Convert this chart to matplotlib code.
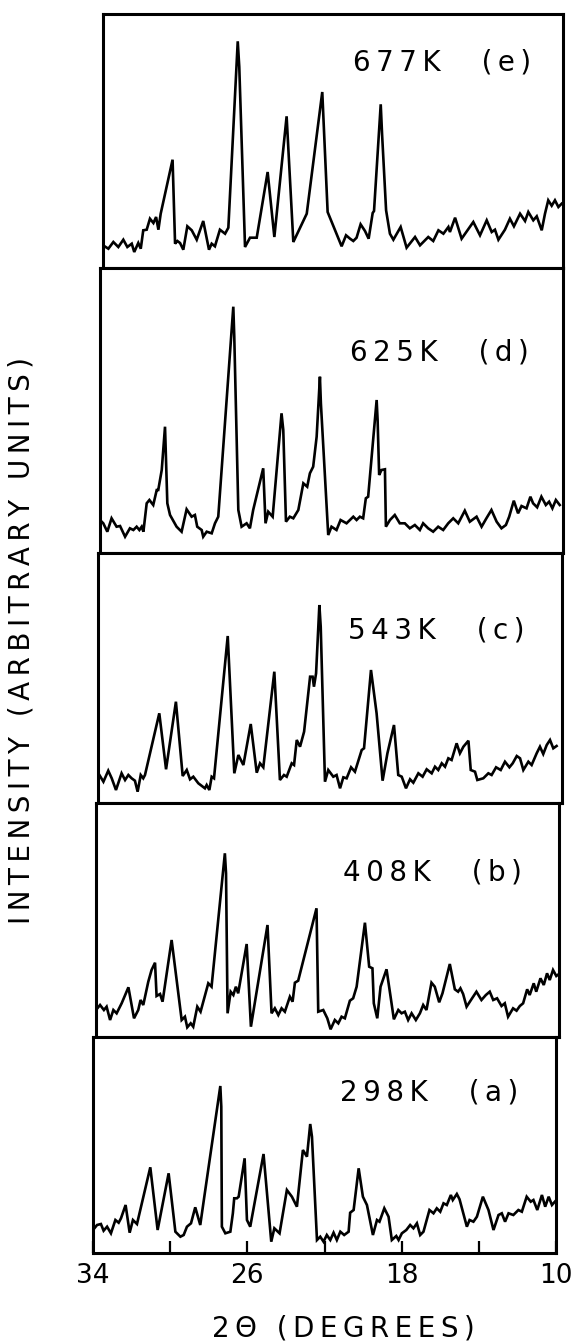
import matplotlib
matplotlib.use("Agg")
import matplotlib.pyplot as plt

# 2-theta (degrees) and intensity (arbitrary units)
x_e = [34.00, 33.72, 33.46, 33.20, 32.94, 32.73, 32.50, 32.37, 32.16, 32.03, 31.90, 31.72, 31.55, 31.37, 31.23, 31.11, 30.99, 30.37, 30.24, 30.12,
       29.98, 29.81, 29.60, 29.37, 29.11, 28.77, 28.47, 28.33, 28.16, 27.90, 27.63, 27.46, 26.97, 26.89, 26.59, 26.33, 25.98, 25.41, 25.06, 24.42,
       24.07, 23.37, 22.56, 22.28, 21.55, 21.32, 21.11, 20.94, 20.77, 20.56, 20.33, 20.14, 19.93, 19.86, 19.51, 19.44, 19.23, 19.03, 18.85, 18.47,
       18.16, 17.72, 17.46, 17.03, 16.77, 16.50, 16.24, 15.98, 15.90, 15.63, 15.29, 14.68, 14.33, 13.98, 13.72, 13.55, 13.37, 13.03, 12.77, 12.56,
       12.24, 11.98, 11.81, 11.55, 11.37, 11.11, 10.94, 10.77, 10.59, 10.42, 10.24, 10.07]
y_e = [22.7, 19.3, 26, 21, 28.3, 21, 24.3, 16, 25, 19.3, 37.7, 38.3, 49.3, 45, 51, 38.3, 54.3, 108.3, 24.3, 27,
       25, 18.3, 41.7, 37.7, 28.3, 47, 18.3, 24.3, 21.7, 38.3, 34.3, 40.3, 226.7, 201, 21, 30.3, 30.3, 96, 31, 151.7,
       26, 54.3, 176, 56, 21.7, 32.7, 29.3, 27, 30.3, 43.7, 37, 29.3, 55, 57, 163.7, 134, 57.7, 34.3, 28.3, 41,
       20.3, 31, 22.7, 31, 27, 37.7, 34.3, 41, 36, 50.3, 29.3, 46, 32.7, 47.7, 36, 38.3, 28.3, 38.3, 49.3, 41.7,
       54.3, 47, 56, 47.7, 51.7, 37.7, 54.3, 67.7, 62.3, 67.7, 61, 64.3]

x_d = [34.00, 33.83, 33.62, 33.40, 33.14, 32.96, 32.70, 32.45, 32.27, 32.10, 31.96, 31.84, 31.75, 31.58, 31.44, 31.24, 31.06, 30.98, 30.80, 30.63,
       30.51, 30.37, 30.03, 29.77, 29.51, 29.25, 29.08, 28.96, 28.73, 28.65, 28.47, 28.21, 28.04, 27.87, 27.09, 27.04, 26.83, 26.66, 26.40, 26.23,
       26.06, 25.54, 25.42, 25.28, 25.05, 24.59, 24.50, 24.36, 24.16, 23.98, 23.72, 23.46, 23.26, 23.12, 22.95, 22.77, 22.60, 22.55, 22.17, 22.00,
       21.74, 21.53, 21.22, 20.87, 20.70, 20.53, 20.36, 20.22, 20.10, 19.66, 19.61, 19.53, 19.41, 19.23, 19.18, 18.97, 18.72, 18.46, 18.20, 17.94,
       17.68, 17.42, 17.25, 16.99, 16.73, 16.47, 16.21, 15.95, 15.69, 15.43, 15.09, 14.83, 14.48, 14.22, 13.97, 13.71, 13.44, 13.19, 12.96, 12.79,
       12.55, 12.33, 12.15, 11.89, 11.69, 11.55, 11.34, 11.12, 10.89, 10.72, 10.55, 10.37, 10.17]
y_d = [33, 29.7, 21.3, 34.7, 26.3, 27, 16.3, 24.7, 23, 26.3, 23, 26.3, 21.3, 49.7, 53, 48, 63, 63, 83, 126.3,
       49.7, 38, 26.3, 21.3, 43.7, 36.3, 38, 26.3, 23, 16.3, 21.3, 19.7, 29.7, 36.3, 246.3, 216.3, 43, 26.3, 29.7, 24.7,
       43, 84.7, 29.7, 41.3, 36.3, 139.7, 123, 31.3, 36.3, 34.7, 43, 69.7, 66.3, 79.7, 86.3, 116.3, 176.3, 149.7, 18, 26.3,
       23, 33, 29.7, 36.3, 33, 36.3, 34.7, 54.7, 56.3, 153, 133, 78, 83, 83.7, 26.3, 33, 38, 29.7, 29.7, 24.7,
       28, 23, 29.7, 24.7, 21.3, 26.3, 23, 29.7, 34.7, 29.7, 42.3, 31.3, 36.3, 26.3, 34.7, 43, 31.3, 24.7, 28, 36.3,
       52.3, 39.7, 47, 44.7, 56.3, 49.7, 45.7, 56.3, 48, 51.3, 44.7, 53, 48]

x_c = [33.98, 33.72, 33.47, 33.29, 33.07, 32.78, 32.60, 32.43, 32.26, 32.09, 31.95, 31.79, 31.66, 31.57, 30.83, 30.48, 29.97, 29.62, 29.41, 29.24,
       29.07, 28.81, 28.47, 28.38, 28.24, 28.12, 28.00, 27.29, 26.95, 26.74, 26.48, 26.10, 25.79, 25.62, 25.45, 24.88, 24.59, 24.38, 24.24, 23.98,
       23.86, 23.72, 23.55, 23.34, 23.03, 22.90, 22.83, 22.72, 22.55, 22.48, 22.26, 22.09, 21.83, 21.66, 21.48, 21.31, 21.14, 20.91, 20.71, 20.36,
       20.24, 19.88, 19.59, 19.28, 19.03, 18.69, 18.47, 18.29, 18.07, 17.86, 17.69, 17.43, 17.21, 17.00, 16.74, 16.57, 16.40, 16.22, 16.05, 15.88,
       15.71, 15.45, 15.28, 15.10, 14.84, 14.72, 14.50, 14.38, 14.07, 13.81, 13.64, 13.41, 13.17, 12.95, 12.72, 12.55, 12.34, 12.17, 12.00, 11.74,
       11.57, 11.31, 11.14, 10.97, 10.79, 10.62, 10.45, 10.28]
y_c = [29.7, 21.3, 32.3, 24.7, 13, 29.7, 23, 28, 24.7, 22.3, 11.3, 28, 24.7, 28, 89.7, 33.7, 101.3, 27, 33, 23.7,
       26.3, 19.7, 14.7, 18, 13, 26.3, 24.7, 167, 29.7, 48, 38, 79, 30.3, 39.7, 35.7, 131.3, 23, 28, 26.3, 39.7,
       38, 63, 56.3, 71.3, 126.3, 126.3, 116.3, 129.7, 198, 176.3, 21.3, 33, 26.3, 28, 14.7, 25.7, 24.7, 35.7, 31.3, 53,
       54.7, 133, 89.7, 22.3, 49.7, 78, 28, 26.3, 14.7, 23.7, 20.3, 29.7, 26.3, 33.7, 29.7, 36.3, 33, 39.7, 36.3, 44.7,
       43, 59.7, 49.7, 56.3, 62.3, 33, 31.3, 23, 24.7, 29.7, 28, 35.7, 33, 41.3, 35.7, 39.7, 47, 44.7, 33, 41.3,
       38, 49.7, 56.3, 49, 58, 63, 54.7, 57]

x_b = [34.00, 33.79, 33.59, 33.45, 33.27, 33.10, 32.93, 32.67, 32.32, 32.03, 31.81, 31.69, 31.55, 31.29, 31.12, 30.94, 30.86, 30.68, 30.55, 30.08,
       29.56, 29.39, 29.27, 29.09, 28.96, 28.75, 28.58, 28.18, 28.01, 27.32, 27.26, 27.18, 27.02, 26.88, 26.75, 26.63, 26.19, 25.97, 25.11, 24.90,
       24.73, 24.55, 24.38, 24.21, 23.95, 23.81, 23.69, 23.52, 22.57, 22.48, 22.22, 22.01, 21.84, 21.62, 21.44, 21.27, 21.10, 20.84, 20.67, 20.49,
       20.06, 19.84, 19.67, 19.60, 19.42, 19.25, 18.94, 18.73, 18.56, 18.33, 18.16, 17.99, 17.82, 17.64, 17.42, 17.21, 17.04, 16.87, 16.61, 16.44,
       16.21, 16.04, 15.66, 15.40, 15.23, 15.11, 14.97, 14.79, 14.54, 14.28, 14.02, 13.79, 13.59, 13.41, 13.21, 12.98, 12.81, 12.64, 12.38, 12.20,
       12.03, 11.86, 11.65, 11.52, 11.31, 11.18, 10.96, 10.79, 10.62, 10.48, 10.31, 10.14, 10.00]
y_b = [27, 32, 27, 30.3, 17, 27, 23.7, 33.7, 49.7, 18.7, 27, 37, 32, 55.3, 67, 74.3, 41, 43, 35.3, 97,
       17, 20.3, 9.7, 13.7, 10.3, 30.3, 25.3, 53.7, 50.3, 183.7, 163.7, 23.7, 45.3, 42, 50.3, 43.7, 93, 10.3, 112, 23.7,
       28.7, 22, 28.7, 25.3, 40.3, 35.3, 54.3, 56.3, 128.7, 25.3, 27, 18.7, 7.7, 17, 13.7, 20.3, 18.7, 36.3, 38.7, 50.3,
       114.3, 70.3, 68.7, 33.7, 18.7, 50.3, 67.7, 40.3, 17.7, 27, 23.7, 25.3, 17, 23.7, 17, 23.7, 32, 27, 54.3, 50.3,
       34.7, 43.7, 73, 47.7, 45.3, 48.7, 43, 30.3, 37.7, 45.3, 37, 42, 45.3, 37, 38.7, 31, 33.7, 20.3, 28.7, 26.3,
       31, 33.7, 47.7, 42, 53.7, 45.3, 58.7, 52, 63.7, 57, 67, 61, 63]

x_a = [34.00, 33.79, 33.59, 33.45, 33.27, 33.07, 32.84, 32.67, 32.55, 32.31, 32.10, 31.93, 31.72, 31.03, 30.65, 30.08, 29.73, 29.47, 29.30, 29.13,
       28.92, 28.70, 28.44, 28.23, 27.40, 27.35, 27.32, 27.14, 26.88, 26.75, 26.68, 26.54, 26.45, 26.14, 26.02, 25.85, 25.16, 24.76, 24.60, 24.33,
       23.95, 23.69, 23.43, 23.12, 22.91, 22.74, 22.65, 22.39, 22.22, 22.05, 21.88, 21.70, 21.53, 21.36, 21.18, 20.98, 20.75, 20.67, 20.49, 20.23,
       20.01, 19.80, 19.49, 19.28, 19.15, 18.90, 18.68, 18.51, 18.28, 18.16, 17.99, 17.76, 17.56, 17.39, 17.21, 17.04, 16.87, 16.56, 16.35, 16.18,
       16.00, 15.83, 15.66, 15.45, 15.35, 15.14, 15.00, 14.62, 14.48, 14.28, 14.10, 13.79, 13.50, 13.24, 12.98, 12.81, 12.64, 12.46, 12.21, 11.95,
       11.77, 11.52, 11.31, 11.17, 10.97, 10.73, 10.56, 10.38, 10.21, 10.04]
y_a = [23, 28, 29, 22.3, 26.3, 19.7, 33, 30.3, 34.7, 48, 20.3, 33, 29, 85.7, 23, 79.7, 21.3, 16.3, 18, 26.3,
       29.7, 45.7, 28, 56.3, 167, 146.3, 26.3, 19.7, 21.3, 39.7, 54.7, 54.7, 56.3, 94.7, 33, 26.3, 99, 11.3, 24.7, 19.7,
       63, 56.3, 46.3, 103, 96.3, 129, 116.3, 13, 16.3, 11.3, 18, 13, 20.3, 13, 21.3, 18, 21.3, 40.3, 43, 84.7,
       56.3, 48, 18, 33, 31.3, 44.7, 36.3, 13, 17, 13, 19.7, 23, 28, 24.7, 29.7, 18, 21.3, 43, 39.7, 44.7,
       41.3, 49.7, 48, 58, 53, 59, 53.7, 26.3, 33, 31.3, 36.3, 56.3, 43, 23, 38, 39.7, 31.3, 39.7, 38, 43,
       41.3, 56.3, 51.3, 53, 43, 58, 46.3, 56.3, 48, 51.7]

temps = ["677K", "625K", "543K", "408K", "298K"]
letters = ["e", "d", "c", "b", "a"]
xs = [x_e, x_d, x_c, x_b, x_a]
ys = [y_e, y_d, y_c, y_b, y_a]

tick_pos = [34, 30, 26, 22, 18, 14, 10]
tick_lab = ["34", "", "26", "", "18", "", "10"]

# panel geometry in pixels (the scan is slightly skewed, so the
# left/right edges drift a little from panel to panel)
W, H = 573, 1343
edges = [14, 268, 553, 803, 1037, 1253]
lefts = [103, 100, 98, 96, 93]
rights = [563, 563, 562, 559, 556]
lab_x = [0.543, 0.540, 0.539, 0.533, 0.533]
lab_y = [0.811, 0.705, 0.692, 0.705, 0.745]


def spaced(s):
    # the plotter font of the original is very wide; thin spaces fake it
    return "\u2009".join(s)


fig = plt.figure(figsize=(W / 100, H / 100), dpi=100)

for i in range(5):
    top, bot = edges[i], edges[i + 1]
    ax = fig.add_axes([lefts[i] / W, 1 - bot / H, (rights[i] - lefts[i]) / W, (bot - top) / H])
    ax.plot(xs[i], ys[i], color="black", lw=1.9, solid_joinstyle="miter")
    ax.set_xlim(34, 10)
    ax.set_ylim(0, bot - top)
    for sp in ax.spines.values():
        sp.set_linewidth(2.2)
    ax.set_yticks([])
    ax.text(lab_x[i], lab_y[i], spaced(temps[i]) + "    \u2009" + spaced("(" + letters[i] + ")"),
            transform=ax.transAxes, ha="left", va="center", fontsize=20)
    if i < 4:
        ax.set_xticks([])
    else:
        ax.set_xticks(tick_pos)
        ax.set_xticklabels(tick_lab, fontsize=19)
        ax.tick_params(axis="x", direction="in", length=9, width=1.6, pad=7)

fig.text(343 / W, 1 - 1328 / H, spaced("2Θ (DEGREES)"), ha="center", va="center", fontsize=20)
fig.text(22 / W, 1 - 640 / H, spaced("INTENSITY (ARBITRARY UNITS)"), rotation=90,
         ha="center", va="center", fontsize=20)

plt.savefig("out.png", dpi=100)
